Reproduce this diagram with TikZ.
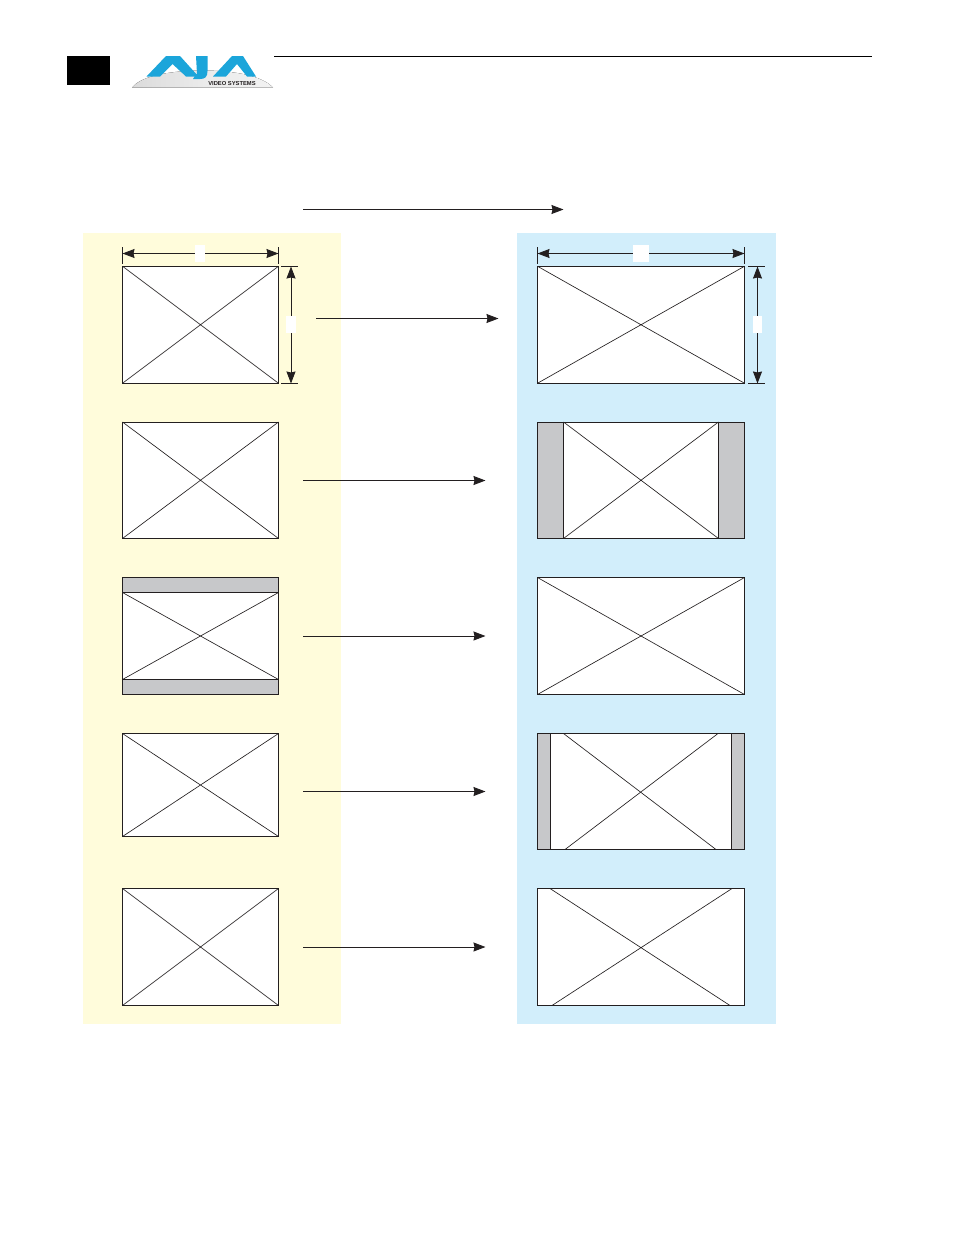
\documentclass[tikz,border=0pt]{standalone}
\usepackage{xcolor}
\usepackage{fontspec}
\setsansfont{Liberation Sans}
\usetikzlibrary{positioning,arrows.meta,calc}
\definecolor{inyellow}{HTML}{FFFCDB}
\definecolor{outblue}{HTML}{D2EEFB}
\definecolor{bargray}{HTML}{C7C8CA}
\definecolor{inkdark}{HTML}{231F20}
\definecolor{ajablue}{HTML}{1BA5DA}

\begin{document}
\begin{tikzpicture}[
  x=1pt, y=-1pt,
  frame/.style={draw=inkdark, fill=white, line width=1pt, outer sep=0pt, inner sep=0pt, minimum width=#1},
  frame/.default=156pt,
  inrow/.style={frame=156pt, minimum height=117pt},
  outrow/.style={frame=207pt, minimum height=117pt},
  bar/.style={draw=inkdark, fill=bargray, line width=1pt, outer sep=0pt, inner sep=0pt},
  panel/.style={outer sep=0pt, inner sep=0pt, minimum width=258.5pt, minimum height=790.5pt},
  gap/.style={fill=white, outer sep=0pt, inner sep=0pt},
  cross/.style={draw=inkdark, line width=.65pt},
  tick/.style={draw=inkdark, line width=.8pt},
  arr/.style={draw=inkdark, line width=.9pt, -{Stealth[length=12pt,width=9pt,inset=1pt]}},
  dim/.style={draw=inkdark, line width=.9pt, {Stealth[length=12pt,width=9pt,inset=1pt]}-{Stealth[length=12pt,width=9pt,inset=1pt]}}
]
\useasboundingbox (0,0) rectangle (954,1235);

% header
\node[fill=black, outer sep=0pt, inner sep=0pt, minimum width=43pt, minimum height=29pt] (tab) at (88.5,70.5) {};
\coordinate (rulel) at (274,56.5);
\coordinate (ruler) at (872,56.5);
\draw[black, line width=.9pt] (rulel) -- (ruler);

% logo
\fill[left color=black!14, right color=black!5, middle color=black!8]
  (132,87.5) .. controls (140,78) and (160,72) .. (195,70.5) -- (205,70.5) .. controls (245,71) and (265,79) .. (273,87.5) -- cycle;
\fill[ajablue] (146.5,76.5) -- (166,56) -- (180,56) -- (198.5,76.5) -- (186,76.5) -- (172.5,64) -- (160,76.5) -- cycle;
\fill[ajablue] (196,56) -- (207.5,56) -- (207.5,71) .. controls (207.5,77) and (205,79) .. (200,79) -- (193,79) -- (196,74) -- (197,74) -- cycle;
\fill[ajablue] (213,76.5) -- (232,56) -- (243,56) -- (256,76.5) -- (247,76.5) -- (237,64) -- (226,76.5) -- cycle;
\node[font=\sffamily\bfseries, scale=.58, text=inkdark, inner sep=0pt] (logotext) at (232,83.7) {VIDEO SYSTEMS};

% top direction arrow
\coordinate (topl) at (303,209.5);
\coordinate (topr) at (563.5,209.5);
\draw[arr] (topl) -- (topr);

% panels
\node[panel, fill=inyellow, anchor=north west] (inpanel) at (82.75,233.25) {};
\node[panel, fill=outblue, anchor=north west] (outpanel) at (517,233.25) {};

% input column
\node[inrow] (ina) at (200.5,324.75) {};
\node[frame=156pt, minimum height=116.5pt] (inb) at (200.5,480.25) {};
\node[inrow] (inc) at (200.5,636) {};
\node[frame=156pt, minimum height=103pt] (ind) at (200.5,785) {};
\node[inrow] (ine) at (200.5,947) {};
\node[bar, minimum width=156pt, minimum height=15pt, anchor=north] (incup) at (inc.north) {};
\node[bar, minimum width=156pt, minimum height=15pt, anchor=south] (inclo) at (inc.south) {};
\draw[cross] (ina.north west) -- (ina.south east) (ina.north east) -- (ina.south west);
\draw[cross] (inb.north west) -- (inb.south east) (inb.north east) -- (inb.south west);
\draw[cross] (incup.south west) -- (inclo.north east) (incup.south east) -- (inclo.north west);
\draw[cross] (ind.north west) -- (ind.south east) (ind.north east) -- (ind.south west);
\draw[cross] (ine.north west) -- (ine.south east) (ine.north east) -- (ine.south west);

% output column
\node[outrow] (outa) at (641,324.75) {};
\node[frame=207pt, minimum height=116.5pt] (outb) at (641,480.25) {};
\node[outrow] (outc) at (641,636) {};
\node[frame=207pt, minimum height=116pt] (outd) at (641,791.5) {};
\node[outrow] (oute) at (641,947) {};
\node[bar, minimum width=26pt, minimum height=116.5pt, anchor=north west] (outbl) at (outb.north west) {};
\node[bar, minimum width=26pt, minimum height=116.5pt, anchor=north east] (outbr) at (outb.north east) {};
\node[bar, minimum width=13pt, minimum height=116pt, anchor=north west] (outdl) at (outd.north west) {};
\node[bar, minimum width=13pt, minimum height=116pt, anchor=north east] (outdr) at (outd.north east) {};
\draw[cross] (outa.north west) -- (outa.south east) (outa.north east) -- (outa.south west);
\draw[cross] (outbl.north east) -- (outbr.south west) (outbr.north west) -- (outbl.south east);
\draw[cross] (outc.north west) -- (outc.south east) (outc.north east) -- (outc.south west);
\coordinate (dtl) at (563.5,733.5);
\coordinate (dtr) at (718,733.5);
\coordinate (dbl) at (565,849.5);
\coordinate (dbr) at (716,849.5);
\draw[cross] (dtl) -- (dbr) (dtr) -- (dbl);
\coordinate (etl) at (550,888.5);
\coordinate (etr) at (732,888.5);
\coordinate (ebl) at (552,1005.5);
\coordinate (ebr) at (730,1005.5);
\draw[cross] (etl) -- (ebr) (etr) -- (ebl);

% dimension lines, input
\coordinate (iwl) at (122.5,253.5);
\coordinate (iwr) at (278.5,253.5);
\coordinate (ihu) at (291,266.5);
\coordinate (ihd) at (291,383.5);
\draw[tick] (122.5,247) -- (122.5,264) (278.5,247) -- (278.5,264);
\draw[tick] (281,266.5) -- (298,266.5) (281,383.5) -- (298,383.5);
\draw[dim] (iwl) -- (iwr);
\draw[dim] (ihu) -- (ihd);
\node[gap, minimum width=10pt, minimum height=17pt] (iwgap) at (200,253.5) {};
\node[gap, minimum width=10pt, minimum height=17pt] (ihgap) at (291,324.5) {};

% dimension lines, output
\coordinate (owl) at (537.5,253.5);
\coordinate (owr) at (744.5,253.5);
\coordinate (ohu) at (757.5,266.5);
\coordinate (ohd) at (757.5,383.5);
\draw[tick] (537.5,247) -- (537.5,264) (744.5,247) -- (744.5,264);
\draw[tick] (748,266.5) -- (765,266.5) (748,383.5) -- (765,383.5);
\draw[dim] (owl) -- (owr);
\draw[dim] (ohu) -- (ohd);
\node[gap, minimum width=16pt, minimum height=17pt] (owgap) at (641,253.5) {};
\node[gap, minimum width=9pt, minimum height=17pt] (ohgap) at (757.5,324.5) {};

% row arrows
\coordinate (aa) at (316,318.5);
\coordinate (ab) at (498.5,318.5);
\draw[arr] (aa) -- (ab);
\coordinate (ba) at (303,480.5);
\coordinate (bb) at (485.5,480.5);
\draw[arr] (ba) -- (bb);
\coordinate (ca) at (303,636);
\coordinate (cb) at (485.5,636);
\draw[arr] (ca) -- (cb);
\coordinate (da) at (303,791.5);
\coordinate (db) at (485.5,791.5);
\draw[arr] (da) -- (db);
\coordinate (ea) at (303,947);
\coordinate (eb) at (485.5,947);
\draw[arr] (ea) -- (eb);
\end{tikzpicture}
\end{document}
